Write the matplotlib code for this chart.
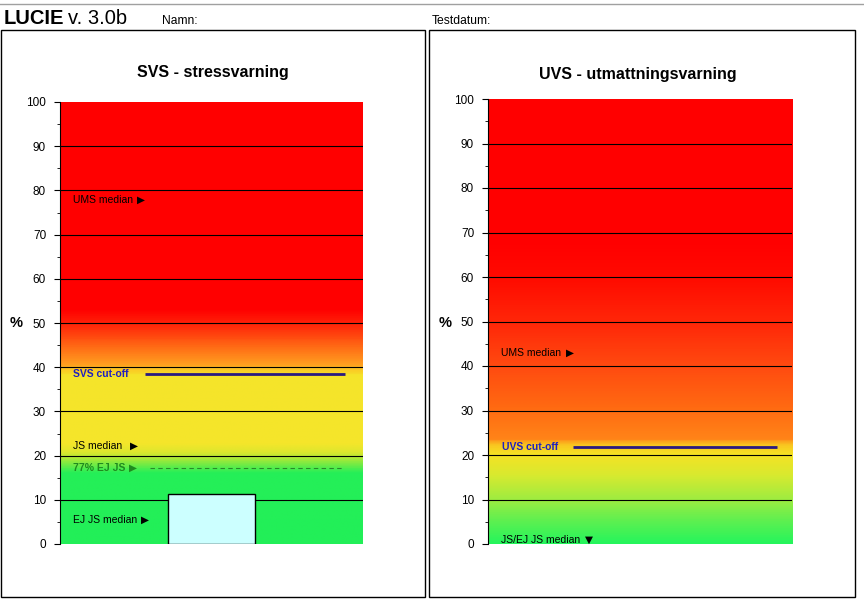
import numpy as np
import matplotlib
matplotlib.use("Agg")
import matplotlib.pyplot as plt
from matplotlib.colors import LinearSegmentedColormap
from matplotlib.patches import Rectangle
from matplotlib.lines import Line2D

plt.rcParams['font.family'] = ['Liberation Sans', 'DejaVu Sans']

# Values
svs_score = [11.3]
svs_cutoff = 38.5
svs_ej_js_77 = 17.2
svs_marks = ["UMS median", "JS median", "EJ JS median"]
svs_mark_values = [77.8, 22.2, 5.4]
svs_arrows = ["\u25B6", "\u25B6", "\u25B6"]

uvs_cutoff = 21.7
uvs_marks = ["UMS median", "JS/EJ JS median"]
uvs_mark_values = [42.9, 1.0]
uvs_arrows = ["\u25B6", "\u25BC"]

# background colour zones (fraction of 0-100 scale, colour)
svs_zones = [(0.00, "#22ef58"), (0.16, "#25ef58"), (0.185, "#8fea3e"), (0.205, "#dce62e"),
             (0.225, "#f5e62a"), (0.38, "#f5e42a"), (0.395, "#fcc824"), (0.405, "#ffa020"),
             (0.45, "#ff6414"), (0.50, "#ff2008"), (0.53, "#ff0000"), (1.00, "#ff0000")]
uvs_zones = [(0.00, "#25f55c"), (0.05, "#5ff050"), (0.10, "#a0ec40"), (0.15, "#d6ea30"),
             (0.20, "#f5e224"), (0.22, "#f9c620"), (0.235, "#ff8418"), (0.30, "#ff6c12"),
             (0.40, "#ff4a10"), (0.50, "#ff2608"), (0.60, "#ff0a00"), (0.68, "#ff0000"),
             (1.00, "#ff0000")]

W, H = 864, 605
fig = plt.figure(figsize=(8.64, 6.05), dpi=100)


def fx(px):
    return px / W


def fy(py):
    return 1 - py / H


def setup(ax, zones):
    cmap = LinearSegmentedColormap.from_list("zone", zones)
    grad = np.linspace(0, 1, 500).reshape(-1, 1)
    ax.imshow(grad, cmap=cmap, extent=[0, 1, 0, 100], origin="lower",
              aspect="auto", zorder=0, interpolation="bilinear")
    ax.set_xlim(0, 1)
    ax.set_ylim(0, 100)
    ax.set_yticks(range(0, 101, 10))
    ax.set_yticks(range(0, 101, 5), minor=True)
    ax.tick_params(axis="y", which="major", length=4, labelsize=8.5, pad=6)
    ax.tick_params(axis="y", which="minor", length=2)
    ax.set_xticks([])
    ax.hlines(range(10, 100, 10), 0, 1, colors="black", lw=0.8, zorder=1)
    for s in ["top", "right", "bottom"]:
        ax.spines[s].set_visible(False)
    ax.spines["left"].set_linewidth(0.8)


def marker(ax, x_lab, x_arrow, y, label, arrow, color="black", bold=False):
    w = "bold" if bold else "normal"
    ax.text(x_lab, y, label, fontsize=7.5, color=color, fontweight=w, va="center", zorder=4)
    ax.text(x_arrow, y, arrow, fontsize=7.5, color=color, va="center", zorder=4,
            family="DejaVu Sans")


# panel frames and header
fig.add_artist(Line2D([0, 1], [fy(4), fy(4)], transform=fig.transFigure, color="#a0a0a0", lw=1))
fig.add_artist(Rectangle((fx(1), fy(597)), fx(424), 567 / H, transform=fig.transFigure,
                         fill=False, ec="black", lw=1))
fig.add_artist(Rectangle((fx(429), fy(597)), fx(426), 567 / H, transform=fig.transFigure,
                         fill=False, ec="black", lw=1))
fig.text(fx(4), fy(18), "LUCIE", fontsize=14.5, fontweight="bold", va="center")
fig.text(fx(68), fy(18), "v. 3.0b", fontsize=14.5, va="center")
fig.text(fx(162), fy(21), "Namn:", fontsize=8.7, va="center")
fig.text(fx(432), fy(21), "Testdatum:", fontsize=8.7, va="center")

# SVS chart
ax1 = fig.add_axes([fx(60), fy(544), fx(303), 442 / H])
setup(ax1, svs_zones)
ax1.bar([0.5], svs_score, width=0.287, color="#ccffff", edgecolor="black", lw=1, zorder=2)
ax1.hlines(svs_cutoff, 0.28, 0.94, colors="#2a1a80", lw=2, zorder=3)
ax1.text(0.043, svs_cutoff, "SVS cut-off", color="#2020c0", fontsize=7.5,
         fontweight="bold", va="center", zorder=4)
ax1.hlines(svs_ej_js_77, 0.297, 0.934, colors="#2a8a2a", lw=0.8,
           linestyles=(0, (4, 3)), zorder=3)
marker(ax1, 0.043, 0.228, svs_ej_js_77, "77% EJ JS", "\u25B6", color="#1f8a1f", bold=True)
arrow_x1 = [0.255, 0.231, 0.268]
for lab, v, ar, xa in zip(svs_marks, svs_mark_values, svs_arrows, arrow_x1):
    marker(ax1, 0.043, xa, v, lab, ar)
fig.text(fx(213), fy(73), "SVS - stressvarning", fontsize=11.5, fontweight="bold",
         ha="center", va="center")
fig.text(fx(16), fy(323), "%", fontsize=10.5, fontweight="bold", ha="center", va="center")

# UVS chart
ax2 = fig.add_axes([fx(488), fy(544), fx(304), 445 / H])
setup(ax2, uvs_zones)
ax2.hlines(uvs_cutoff, 0.28, 0.95, colors="#2a1a80", lw=2, zorder=3)
ax2.text(0.046, uvs_cutoff, "UVS cut-off", color="#2020c0", fontsize=7.5,
         fontweight="bold", va="center", zorder=4)
arrow_x2 = [0.258, 0.32]
for lab, v, ar, xa in zip(uvs_marks, uvs_mark_values, uvs_arrows, arrow_x2):
    marker(ax2, 0.043, xa, v, lab, ar)
fig.text(fx(638), fy(74), "UVS - utmattningsvarning", fontsize=11.5, fontweight="bold",
         ha="center", va="center")
fig.text(fx(445), fy(323), "%", fontsize=10.5, fontweight="bold", ha="center", va="center")

fig.savefig("out.png", dpi=100)
